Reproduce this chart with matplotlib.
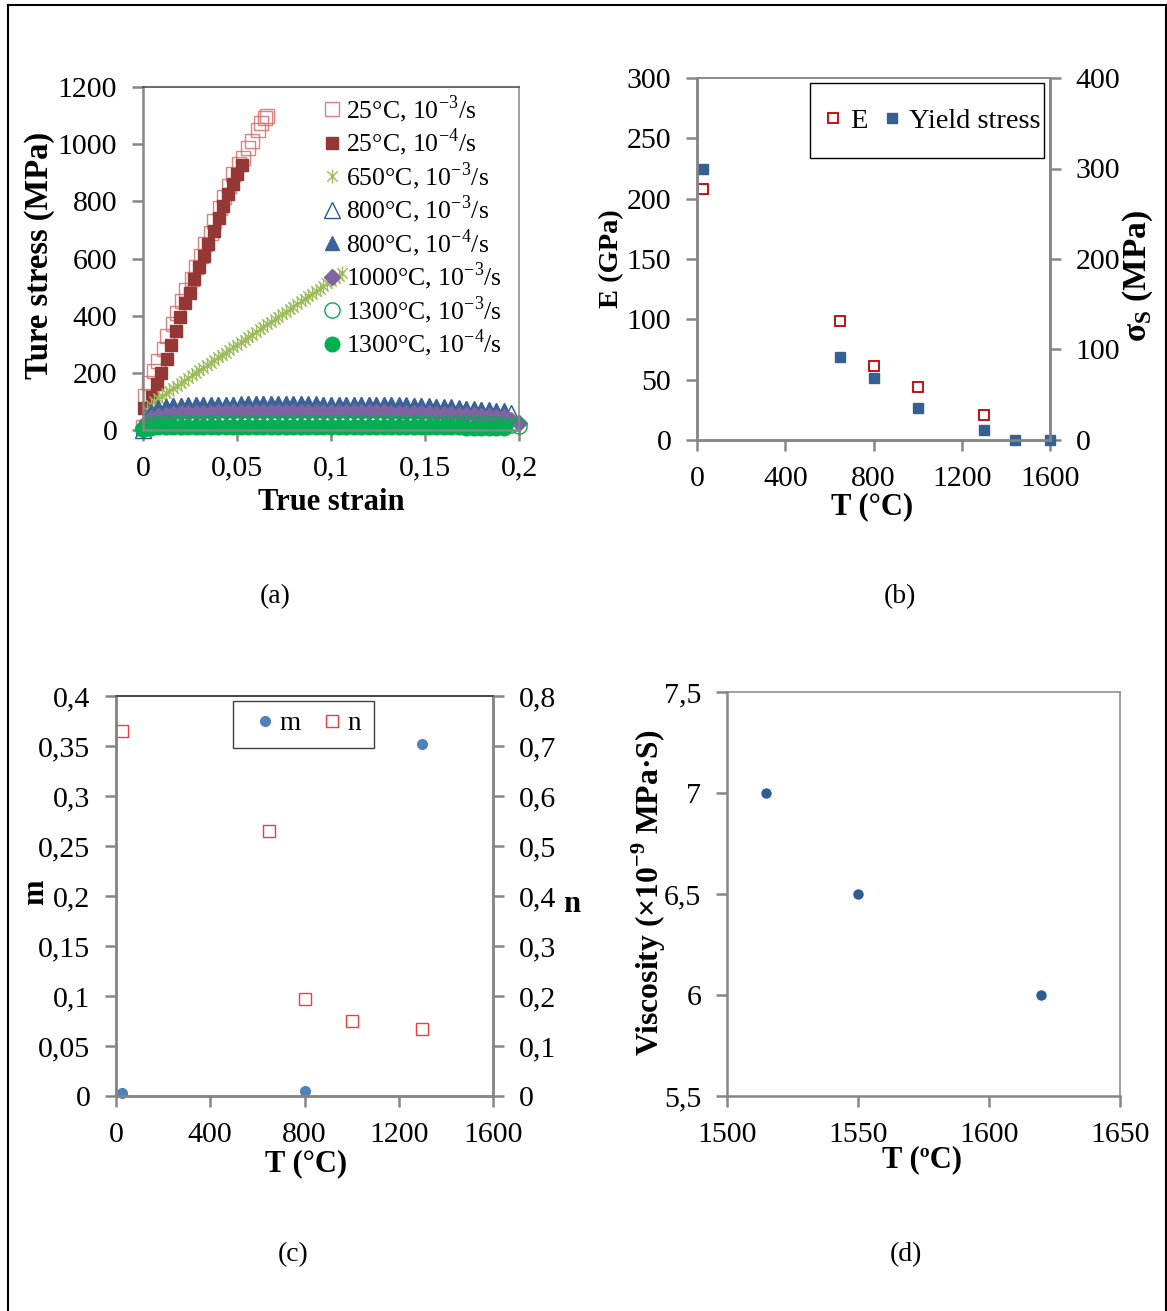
import matplotlib
matplotlib.use('Agg')
import matplotlib.pyplot as plt
from matplotlib.ticker import MultipleLocator, FuncFormatter
from matplotlib.patches import Rectangle
from matplotlib.lines import Line2D
from matplotlib.path import Path

plt.rcParams['font.family'] = ['Liberation Serif', 'DejaVu Serif']
plt.rcParams['mathtext.fontset'] = 'custom'
plt.rcParams['mathtext.rm'] = 'Liberation Serif'
plt.rcParams['mathtext.bf'] = 'Liberation Serif:bold'

# ---------------- data ----------------
# (a) true stress - true strain curves
strain_25_3 = [0.000, 0.001, 0.003, 0.006, 0.008, 0.011, 0.013, 0.016, 0.018, 0.021,
               0.023, 0.026, 0.028, 0.031, 0.033, 0.036, 0.038, 0.041, 0.043, 0.046,
               0.048, 0.051, 0.053, 0.056, 0.058, 0.061, 0.063, 0.065, 0.066]
stress_25_3 = [10, 120, 165, 205, 240, 285, 330, 370, 410, 450,
               490, 530, 570, 610, 650, 690, 730, 775, 815, 855,
               895, 930, 950, 985, 1010, 1050, 1075, 1090, 1100]

strain_25_4 = [0.0004, 0.0046, 0.0075, 0.0098, 0.0125, 0.0150, 0.0173, 0.0198, 0.0225, 0.0252,
               0.0273, 0.0300, 0.0327, 0.0348, 0.0375, 0.0402, 0.0425, 0.0452, 0.0477, 0.0500,
               0.0527]
stress_25_4 = [76, 116, 160, 198, 247, 296, 345, 396, 443, 481,
               527, 569, 609, 652, 697, 740, 785, 824, 862, 897,
               928]

strain_650 = [0.002, 0.004, 0.006, 0.008, 0.010, 0.012, 0.014, 0.016, 0.018, 0.020,
              0.022, 0.024, 0.026, 0.028, 0.030, 0.032, 0.034, 0.036, 0.038, 0.040,
              0.042, 0.044, 0.046, 0.048, 0.050, 0.052, 0.054, 0.056, 0.058, 0.060,
              0.062, 0.064, 0.066, 0.068, 0.070, 0.072, 0.074, 0.076, 0.078, 0.080,
              0.082, 0.084, 0.086, 0.088, 0.090, 0.092, 0.094, 0.096, 0.098, 0.100,
              0.102, 0.104, 0.106]
stress_650 = [70, 86, 102, 111, 120, 129, 138, 147, 155, 164,
              173, 182, 191, 200, 209, 218, 227, 236, 245, 254,
              263, 271, 280, 289, 298, 307, 316, 325, 334, 343,
              352, 361, 370, 379, 388, 396, 405, 414, 423, 432,
              441, 450, 459, 468, 477, 486, 495, 504, 513, 522,
              531, 540, 548]

strain_hot = [0.000, 0.002, 0.004, 0.008, 0.012, 0.016, 0.020, 0.024, 0.028, 0.032,
              0.036, 0.040, 0.044, 0.048, 0.052, 0.056, 0.060, 0.064, 0.068, 0.072,
              0.076, 0.080, 0.084, 0.088, 0.092, 0.096, 0.100, 0.104, 0.108, 0.112,
              0.116, 0.120, 0.124, 0.128, 0.132, 0.136, 0.140, 0.144, 0.148, 0.152,
              0.156, 0.160, 0.164, 0.168, 0.172, 0.176, 0.180, 0.184, 0.188, 0.192]

strain_800_3 = strain_hot + [0.196]
stress_800_3 = [0, 38, 60, 75, 80, 83, 85, 86, 87, 88,
                88, 89, 89, 89, 90, 90, 90, 90, 90, 90,
                90, 90, 90, 90, 90, 89, 89, 89, 89, 89,
                88, 88, 88, 87, 87, 86, 86, 85, 84, 83,
                82, 80, 79, 77, 75, 73, 71, 69, 67, 65,
                60]

strain_800_4 = strain_hot
stress_800_4 = [8, 45, 68, 80, 84, 86, 88, 89, 90, 90,
                91, 91, 92, 92, 92, 93, 93, 93, 93, 93,
                93, 93, 93, 92, 92, 92, 92, 92, 91, 91,
                91, 91, 90, 90, 90, 89, 88, 87, 86, 85,
                84, 82, 80, 78, 76, 74, 72, 70, 67, 64]

strain_1000_3 = strain_hot + [0.196, 0.200]
stress_1000_3 = [12, 30, 42, 50, 54, 56, 58, 59, 60, 61,
                 61, 62, 62, 63, 63, 63, 63, 64, 64, 64,
                 64, 64, 64, 64, 64, 63, 63, 63, 63, 63,
                 62, 62, 62, 62, 61, 61, 60, 60, 59, 58,
                 57, 56, 55, 54, 53, 52, 50, 48, 46, 44,
                 36, 24]

strain_1300_3 = strain_hot + [0.196, 0.200]
stress_1300_3 = [5, 15, 20, 22, 23, 23, 24, 24, 24, 24,
                 24, 24, 24, 24, 24, 24, 24, 24, 24, 24,
                 24, 24, 24, 24, 24, 24, 24, 24, 24, 24,
                 23, 23, 23, 23, 23, 23, 23, 23, 23, 22,
                 22, 22, 22, 22, 21, 21, 21, 20, 20, 19,
                 18, 15]

strain_1300_4 = strain_hot
stress_1300_4 = [2, 6, 8, 9, 9, 9, 10, 10, 10, 10,
                 10, 10, 10, 10, 10, 10, 10, 10, 10, 10,
                 10, 10, 10, 10, 10, 10, 10, 10, 10, 10,
                 10, 10, 10, 10, 9, 9, 9, 9, 9, 9,
                 9, 9, 9, 9, 8, 8, 8, 8, 8, 8]

# (b) elastic modulus and yield stress
T_E = [25, 650, 800, 1000, 1300]
E_gpa = [208, 99, 61, 44, 21]
T_ys = [25, 650, 800, 1000, 1300, 1440, 1600]
ys_mpa = [300, 92, 69, 35, 11, 0, 0]

# (c) m and n
T_m = [25, 800, 1300]
m_val = [0.003, 0.005, 0.352]
T_n = [25, 650, 800, 1000, 1300]
n_val = [0.73, 0.53, 0.195, 0.15, 0.134]

# (d) viscosity
T_visc = [1515, 1550, 1620]
visc = [7.0, 6.5, 6.0]

# ---------------- layout ----------------
W, H = 1167, 1311
GRAY = '#868686'
TICK_FS = 21.5
LAB_FS = 22

fig = plt.figure(figsize=(W / 100, H / 100), dpi=100)


def box(l, t, r, b):
    return [l / W, 1 - b / H, (r - l) / W, (b - t) / H]


def fx(x):
    return x / W


def fy(y):
    return 1 - y / H


comma = FuncFormatter(lambda v, p: ('%g' % v).replace('.', ','))

# excel style star: an x with a vertical bar
star = Path([(0, -1), (0, 1), (-0.75, -0.75), (0.75, 0.75), (-0.75, 0.75), (0.75, -0.75)],
            [Path.MOVETO, Path.LINETO, Path.MOVETO, Path.LINETO, Path.MOVETO, Path.LINETO])


def style(ax, top='#404040'):
    for s in ['left', 'bottom', 'right']:
        ax.spines[s].set_color(GRAY)
        ax.spines[s].set_linewidth(1.8)
    ax.spines['top'].set_color(top)
    ax.spines['top'].set_linewidth(1.1)
    ax.tick_params(direction='out', length=8, width=1.8, color=GRAY,
                   labelsize=TICK_FS, pad=10.5)


def sup(s):
    return '$^\\mathregular{' + s + '}$'


# ---------------- (a) ----------------
ax = fig.add_axes(box(143, 87, 519, 430))
style(ax)
ax.spines['right'].set_linewidth(1.1)
ms_kw = dict(ls='none', clip_on=False)
ax.plot(strain_25_3, stress_25_3, marker='s', ms=10.5, mfc='none', mec='#DA6B68', mew=1.0,
        alpha=0.85, label='25°C, 10' + sup('-3') + '/s', **ms_kw)
ax.plot(strain_25_4, stress_25_4, marker='s', ms=8.5, mfc='#953735', mec='#953735',
        label='25°C, 10' + sup('-4') + '/s', **ms_kw)
ax.plot(strain_650, stress_650, marker=star, ms=10, mec='#9BBB59', mew=1.0,
        label='650°C, 10' + sup('-3') + '/s', **ms_kw)
ax.plot(strain_800_3, stress_800_3, marker='^', ms=11, mfc='none', mec='#2C5795', mew=1.0,
        label='800°C, 10' + sup('-3') + '/s', **ms_kw)
ax.plot(strain_800_4, stress_800_4, marker='^', ms=10.5, mfc='#3B6397', mec='#3B6397',
        label='800°C, 10' + sup('-4') + '/s', **ms_kw)
ax.plot(strain_1000_3, stress_1000_3, marker='D', ms=8.5, mfc='#8064A2', mec='#8064A2',
        label='1000°C, 10' + sup('-3') + '/s', **ms_kw)
ax.plot(strain_1300_3, stress_1300_3, marker='o', ms=11, mfc='none', mec='#00B050', mew=1.0,
        label='1300°C, 10' + sup('-3') + '/s', **ms_kw)
ax.plot(strain_1300_4, stress_1300_4, marker='o', ms=10.5, mfc='#00B050', mec='#00B050',
        label='1300°C, 10' + sup('-4') + '/s', **ms_kw)
ax.set_xlim(0, 0.2)
ax.set_ylim(0, 1200)
ax.xaxis.set_major_locator(MultipleLocator(0.05))
ax.yaxis.set_major_locator(MultipleLocator(200))
ax.xaxis.set_major_formatter(comma)
ax.legend(loc='upper left', bbox_to_anchor=(fx(322), fy(93)), bbox_transform=fig.transFigure,
          frameon=False, fontsize=18.5, handlelength=0.8, handletextpad=0.15,
          borderpad=0, labelspacing=0.07, borderaxespad=0)
fig.text(fx(40), fy(255), 'Ture stress (MPa)', rotation=90, ha='center', va='center',
         fontsize=23.5, fontweight='bold')
fig.text(fx(331), fy(503), 'True strain', ha='center', va='center',
         fontsize=LAB_FS, fontweight='bold')

# ---------------- (b) ----------------
ax = fig.add_axes(box(697, 78, 1050, 440))
style(ax, top=GRAY)
ax2 = ax.twinx()
style(ax2, top=GRAY)
hE, = ax.plot(T_E, E_gpa, ls='none', marker='s', ms=6.5, mfc='white', mec='#C00000', mew=1.3,
              clip_on=False, label='E')
hY, = ax2.plot(T_ys, ys_mpa, ls='none', marker='s', ms=6.5, mfc='#376092', mec='#376092',
               clip_on=False, label='Yield stress')
ax.set_xlim(0, 1600)
ax.set_ylim(0, 300)
ax2.set_ylim(0, 400)
ax.xaxis.set_major_locator(MultipleLocator(400))
ax.yaxis.set_major_locator(MultipleLocator(50))
ax2.yaxis.set_major_locator(MultipleLocator(100))
fig.patches.append(Rectangle((fx(810), fy(158)), fx(1044) - fx(810), fy(83) - fy(158),
                             transform=fig.transFigure, fill=False, ec='black', lw=1.0))
ax2.legend(handles=[hE, hY], loc='center left', bbox_to_anchor=(fx(822), fy(121)),
           bbox_transform=fig.transFigure, ncol=2, frameon=False, fontsize=20.5,
           handlelength=0.8, handletextpad=0.2, columnspacing=0.45, borderpad=0,
           borderaxespad=0)
fig.text(fx(612), fy(259), 'E (GPa)', rotation=90, ha='center', va='center',
         fontsize=20.5, fontweight='bold')
fig.text(fx(1138), fy(276), 'σ$_\\mathregular{S}$ (MPa)', rotation=90, ha='center', va='center',
         fontsize=24, fontweight='bold')
fig.text(fx(872), fy(507), 'T (°C)', ha='center', va='center',
         fontsize=LAB_FS, fontweight='bold')

# ---------------- (c) ----------------
ax = fig.add_axes(box(116, 696, 493, 1096))
style(ax)
ax2 = ax.twinx()
style(ax2)
hm, = ax.plot(T_m, m_val, ls='none', marker='o', ms=7, mfc='#4F81BD', mec='#4F81BD',
              clip_on=False, label='m')
hn, = ax2.plot(T_n, n_val, ls='none', marker='s', ms=8, mfc='none', mec='#F03C3C', mew=1.0,
               clip_on=False, label='n')
ax.set_xlim(0, 1600)
ax.set_ylim(0, 0.4)
ax2.set_ylim(0, 0.8)
ax.xaxis.set_major_locator(MultipleLocator(400))
ax.yaxis.set_major_locator(MultipleLocator(0.05))
ax2.yaxis.set_major_locator(MultipleLocator(0.1))
ax.yaxis.set_major_formatter(comma)
ax2.yaxis.set_major_formatter(comma)
fig.patches.append(Rectangle((fx(233), fy(748)), fx(374) - fx(233), fy(701) - fy(748),
                             transform=fig.transFigure, fill=False, ec='#404040', lw=1.0))
ax2.legend(handles=[hm, hn], loc='center left', bbox_to_anchor=(fx(254), fy(724)),
           bbox_transform=fig.transFigure, ncol=2, frameon=False, fontsize=19.5,
           handlelength=0.8, handletextpad=0.15, columnspacing=0.75, borderpad=0,
           borderaxespad=0)
fig.text(fx(36), fy(892), 'm', rotation=90, ha='center', va='center',
         fontsize=LAB_FS, fontweight='bold')
fig.text(fx(572), fy(905), 'n', ha='center', va='center',
         fontsize=LAB_FS, fontweight='bold')
fig.text(fx(306), fy(1164), 'T (°C)', ha='center', va='center',
         fontsize=LAB_FS, fontweight='bold')

# ---------------- (d) ----------------
ax = fig.add_axes(box(727, 692, 1120, 1096))
style(ax, top=GRAY)
ax.spines['right'].set_linewidth(1.1)
ax.plot(T_visc, visc, ls='none', marker='o', ms=6.5, mfc='#2F5D91', mec='#2F5D91',
        clip_on=False)
ax.set_xlim(1500, 1650)
ax.set_ylim(5.5, 7.5)
ax.xaxis.set_major_locator(MultipleLocator(50))
ax.yaxis.set_major_locator(MultipleLocator(0.5))
ax.yaxis.set_major_formatter(comma)
fig.text(fx(649), fy(893), 'Viscosity (×10' + sup('-9') + ' MPa·S)', rotation=90,
         ha='center', va='center', fontsize=22.8, fontweight='bold')
fig.text(fx(922), fy(1160), 'T (ºC)', ha='center', va='center',
         fontsize=LAB_FS, fontweight='bold')

# panel letters
for lab, x, y in [('(a)', 275, 597), ('(b)', 900, 597), ('(c)', 293, 1255), ('(d)', 906, 1255)]:
    fig.text(fx(x), fy(y), lab, ha='center', va='center', fontsize=20)

# outer frame
for xs, ys in [([8, 8], [1311, 5]), ([8, 1166], [5, 5]), ([1166, 1166], [5, 1311])]:
    fig.lines.append(Line2D([fx(v) for v in xs], [fy(v) for v in ys],
                            transform=fig.transFigure, color='black', lw=1.5))

fig.savefig('out.png', dpi=100)
